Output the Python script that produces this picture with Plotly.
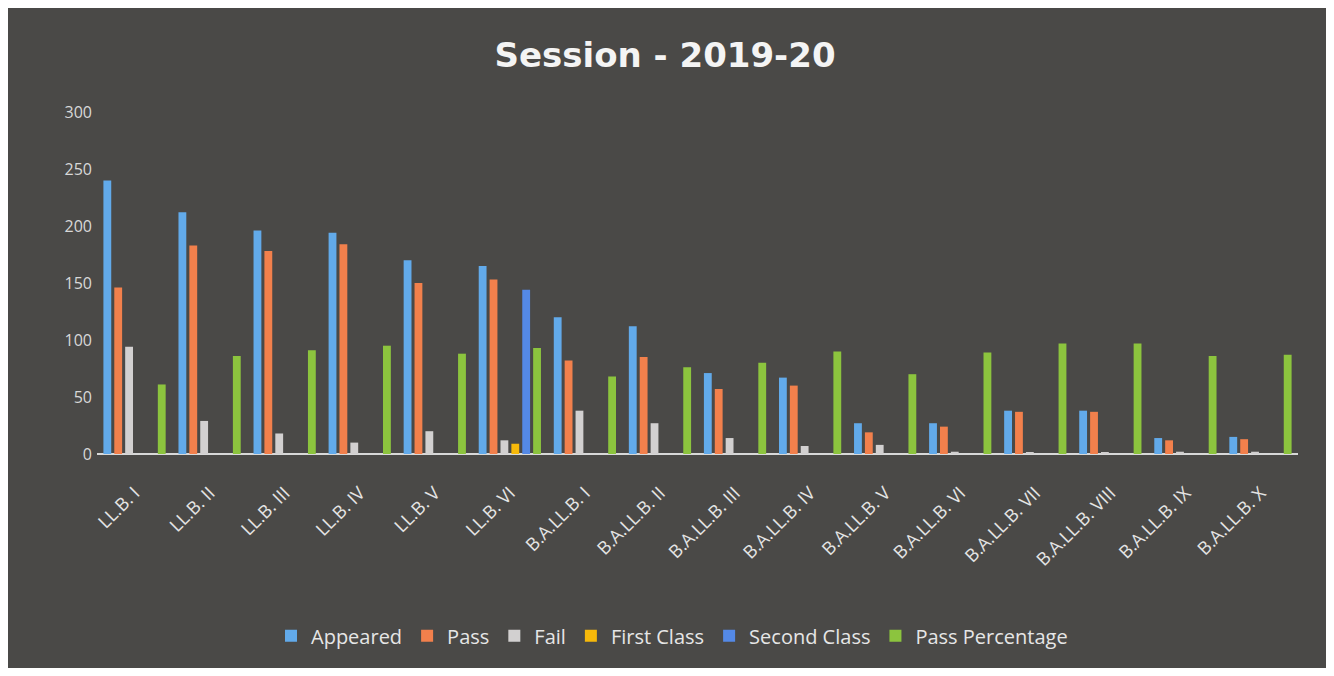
import plotly.graph_objects as go

categories = ["LL.B. I", "LL.B. II", "LL.B. III", "LL.B. IV", "LL.B. V", "LL.B. VI",
              "B.A.LL.B. I", "B.A.LL.B. II", "B.A.LL.B. III", "B.A.LL.B. IV", "B.A.LL.B. V",
              "B.A.LL.B. VI", "B.A.LL.B. VII", "B.A.LL.B. VIII", "B.A.LL.B. IX", "B.A.LL.B. X"]
appeared = [240, 212, 196, 194, 170, 165, 120, 112, 71, 67, 27, 27, 38, 38, 14, 15]
passed = [146, 183, 178, 184, 150, 153, 82, 85, 57, 60, 19, 24, 37, 37, 12, 13]
failed = [94, 29, 18, 10, 20, 12, 38, 27, 14, 7, 8, 2, 1, 1, 2, 2]
first_class = [0, 0, 0, 0, 0, 9, 0, 0, 0, 0, 0, 0, 0, 0, 0, 0]
second_class = [0, 0, 0, 0, 0, 144, 0, 0, 0, 0, 0, 0, 0, 0, 0, 0]
pass_pct = [61, 86, 91, 95, 88, 93, 68, 76, 80, 90, 70, 89, 97, 97, 86, 87]
y_ticks = [0, 50, 100, 150, 200, 250, 300]

series = [
    ("Appeared", appeared, "#62aaea"),
    ("Pass", passed, "#f2804c"),
    ("Fail", failed, "#d2d0d0"),
    ("First Class", first_class, "#f7b90a"),
    ("Second Class", second_class, "#5489e6"),
    ("Pass Percentage", pass_pct, "#8cc43e"),
]

fig = go.Figure()
for name, vals, col in series:
    fig.add_trace(go.Bar(x=categories, y=vals, name=name, marker=dict(color=col, line=dict(width=0))))

# page has an 8px body margin, which gives the white frame
W, H = 1318, 660
l, r, t, b = 89, 28, 104, 208
pw, ph = W - l - r, H - t - b

fig.update_layout(
    width=W, height=H,
    margin=dict(l=l, r=r, t=t, b=b),
    paper_bgcolor="#4a4947",
    plot_bgcolor="#4a4947",
    barmode="group", bargap=0.13, bargroupgap=0.28,
    title=dict(text="<b>Session - 2019-20</b>", x=657 / W, xanchor="center",
               y=1 - 47 / H, yanchor="middle",
               font=dict(family="DejaVu Sans", size=34, color="#f4f4f4")),
    font=dict(family="Open Sans", color="#dcdcdc"),
    showlegend=True,
    legend=dict(orientation="h", x=(664 - l) / pw, xanchor="center",
                y=(H - b - 637) / ph, yanchor="middle",
                font=dict(family="Open Sans", size=20, color="#e6e6e6"),
                traceorder="normal", bgcolor="rgba(0,0,0,0)"),
    xaxis=dict(tickangle=-45, tickfont=dict(family="Open Sans", size=18, color="#e4e4e4"),
               showgrid=False, showline=False, ticks="", zeroline=False,
               ticklabelstandoff=24, automargin=False),
    yaxis=dict(range=[0, 300], tickvals=y_ticks, showgrid=False, zeroline=True,
               zerolinecolor="#d8d8d8", zerolinewidth=2,
               tickfont=dict(family="Open Sans", size=16, color="#d8d8d8"),
               ticks="", showline=False, ticklabelstandoff=4, automargin=False),
)

fig.write_html("out.html")
